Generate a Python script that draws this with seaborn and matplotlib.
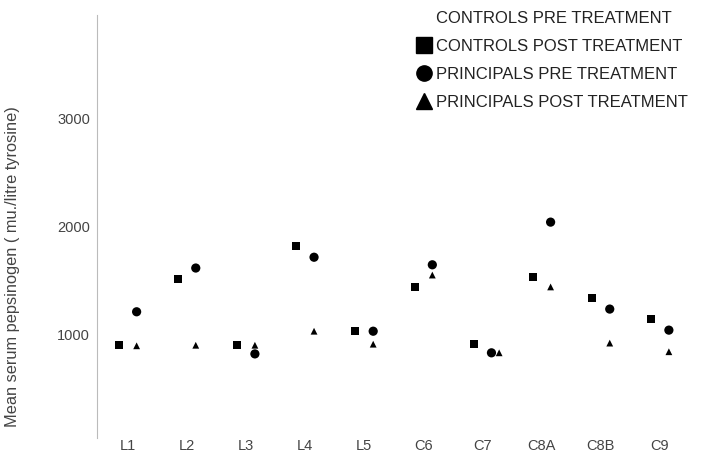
import matplotlib
matplotlib.use("Agg")
import matplotlib.pyplot as plt
from matplotlib.lines import Line2D
import seaborn as sns
import pandas as pd
import numpy as np

categories = ["L1", "L2", "L3", "L4", "L5", "C6", "C7", "C8A", "C8B", "C9"]
controls_post = [905, 1520, 905, 1825, 1035, 1445, 915, 1535, 1345, 1150]
principals_pre = [1215, 1620, 825, 1720, 1035, 1650, 835, 2045, 1240, 1045]
principals_post = [900, 905, 905, 1035, 915, 1555, 835, 1445, 925, 845]
# small horizontal nudge so overlapping principals points stay visible
principals_post_nudge = [0, 0, 0, 0, 0, 0, 0.13, 0, 0, 0]

legend_labels = ["CONTROLS PRE TREATMENT", "CONTROLS POST TREATMENT",
                 "PRINCIPALS PRE TREATMENT", "PRINCIPALS POST TREATMENT"]
yticks = [1000, 2000, 3000]

sns.set_style("white")
plt.rcParams["font.family"] = ["Liberation Sans", "DejaVu Sans"]

fig = plt.figure(figsize=(7.02, 4.63), dpi=100)
ax = fig.add_axes([97/702, 25.4/463, 605/702, 422.3/463])

idx = np.arange(len(categories))
df_c = pd.DataFrame({"x": idx - 0.15, "y": controls_post})
df_pp = pd.DataFrame({"x": idx + 0.15, "y": principals_pre})
df_pq = pd.DataFrame({"x": idx + 0.15 + np.array(principals_post_nudge), "y": principals_post})

sns.scatterplot(data=df_c, x="x", y="y", marker="s", color="black", s=34,
                edgecolor="none", ax=ax)
sns.scatterplot(data=df_pp, x="x", y="y", marker="o", color="black", s=44,
                edgecolor="none", ax=ax)
sns.scatterplot(data=df_pq, x="x", y="y", marker="^", color="black", s=24,
                edgecolor="none", ax=ax)

ax.set_xlim(-0.52, 9.71)
ax.set_ylim(50, 3960)
ax.set_xticks(idx)
ax.set_xticklabels(categories)
ax.set_yticks(yticks)
ax.set_yticklabels([str(v) for v in yticks])
ax.tick_params(axis="x", length=0, pad=1, labelsize=10.5, labelcolor="#444444")
ax.tick_params(axis="y", direction="inout", length=4, width=0.8, color="#aaaaaa",
               labelsize=10.5, labelcolor="#444444", pad=3)
ax.set_xlabel("")
ax.set_ylabel("Mean serum pepsinogen ( mu./litre tyrosine)", fontsize=11.8,
              color="#444444")
ax.yaxis.set_label_coords(-0.128, 0.404)

for s in ["top", "right", "bottom"]:
    ax.spines[s].set_visible(False)
ax.spines["left"].set_color("#bbbbbb")
ax.spines["left"].set_linewidth(0.8)

handles = [
    Line2D([], [], linestyle="none", marker="s", markersize=11, color="none"),
    Line2D([], [], linestyle="none", marker="s", markersize=11, color="black"),
    Line2D([], [], linestyle="none", marker="o", markersize=11, color="black"),
    Line2D([], [], linestyle="none", marker="^", markersize=11, color="black"),
]
leg = ax.legend(handles, legend_labels, loc="upper left",
                bbox_to_anchor=(408/702, 1 - 4/463), bbox_transform=fig.transFigure,
                frameon=False, fontsize=12, handletextpad=0.15, handlelength=1.1,
                labelspacing=0.78, borderaxespad=0)
for t in leg.get_texts():
    t.set_color("#222222")

fig.savefig("out.png", dpi=100)
